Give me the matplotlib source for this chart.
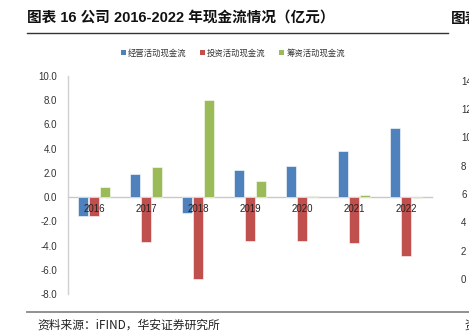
import matplotlib
matplotlib.use("Agg")
import matplotlib.pyplot as plt
from matplotlib.lines import Line2D
from matplotlib.patches import Patch
from matplotlib.transforms import offset_copy
import numpy as np

years = ['2016', '2017', '2018', '2019', '2020', '2021', '2022']
operating = [-1.6, 1.9, -1.3, 2.2, 2.6, 3.8, 5.7]
investing = [-1.6, -3.7, -6.8, -3.6, -3.6, -3.8, -4.9]
financing = [0.85, 2.5, 8.05, 1.35, 0.1, 0.2, -0.05]
series_names = ['经营活动现金流', '投资活动现金流', '筹资活动现金流']
yticks = [-8, -6, -4, -2, 0, 2, 4, 6, 8, 10]
neighbour_ticks = [14, 12, 10, 8, 6, 4, 2, 0]

colors = ['#4F81BD', '#C0504D', '#9BBB59']
W, H = 469, 336
fig = plt.figure(figsize=(W / 100, H / 100), dpi=100)

def fx(px):
    return px / W

def fy(py):
    return 1 - py / H

ax = fig.add_axes([fx(68), fy(294), fx(432) - fx(68), fy(76) - fy(294)])
x = np.arange(len(years))
bw = 0.19
offs = [-0.22, 0.0, 0.215]
for vals, c, o in zip([operating, investing, financing], colors, offs):
    ax.bar(x + o, vals, width=bw, color=c, edgecolor='white', linewidth=0.4, zorder=2)

ax.set_xlim(-0.5, len(years) - 0.5)
ax.set_ylim(-8, 10)
ax.set_yticks(yticks)
ax.set_yticklabels([f'{v:.1f}' for v in yticks], fontsize=7, color='#333333',
                   family=['Liberation Sans'])
ax.tick_params(axis='y', length=0, pad=8)
ax.set_xticks([])
ax.spines['bottom'].set_position(('data', 0))
for s in ['top', 'right']:
    ax.spines[s].set_visible(False)
ax.spines['bottom'].set_color('#C8C8C8')
ax.spines['left'].set_color('#D0D0D0')
ax.spines['bottom'].set_linewidth(1.0)
ax.spines['left'].set_linewidth(1.0)
ax.spines['bottom'].set_zorder(1)
ax.set_facecolor('none')

tr = offset_copy(ax.transData, fig=fig, x=0, y=-8.5, units='points')
for xi, yr in zip(x, years):
    ax.text(xi, 0, yr, transform=tr, ha='center', va='center', fontsize=7,
            color='#222222', family=['Liberation Sans'], zorder=5)

handles = [Patch(facecolor=c, edgecolor='none') for c in colors]
fig.legend(handles, series_names, loc='center left', bbox_to_anchor=(fx(121), fy(53)),
           ncol=3, frameon=False, prop={'family': ['Noto Sans CJK SC'], 'size': 6},
           handlelength=0.6, handleheight=0.6, handletextpad=0.25, columnspacing=1.6,
           borderpad=0, borderaxespad=0, labelcolor='#333333')

fig.text(fx(27), fy(18), '图表 16 公司 2016-2022 年现金流情况（亿元）', fontsize=10.5,
         fontweight='bold', family=['Liberation Sans', 'Noto Sans CJK SC'],
         va='center', ha='left', color='#111111')
fig.text(fx(451), fy(18), '图表', fontsize=10.5, fontweight='bold',
         family=['Noto Sans CJK SC'], va='center', ha='left', color='#111111')
fig.add_artist(Line2D([fx(27), fx(448)], [fy(33), fy(33)], color='#333333', lw=1.0))
fig.add_artist(Line2D([fx(27), fx(469)], [fy(311.5), fy(311.5)], color='#888888', lw=1.3))
fig.text(fx(37), fy(325), '资料来源：iFIND，华安证券研究所', fontsize=8.5,
         family=['Noto Sans CJK SC'], va='center', ha='left', color='#222222')
fig.text(fx(464), fy(326), '资', fontsize=8.5, family=['Noto Sans CJK SC'],
         va='center', ha='left', color='#222222')

for i, v in enumerate(neighbour_ticks):
    py = 81.7 + i * (280 - 81.7) / (len(neighbour_ticks) - 1)
    fig.text(fx(461), fy(py), str(v), fontsize=7, family=['Liberation Sans'],
             va='center', ha='left', color='#333333')

fig.savefig('out.png', dpi=100)
